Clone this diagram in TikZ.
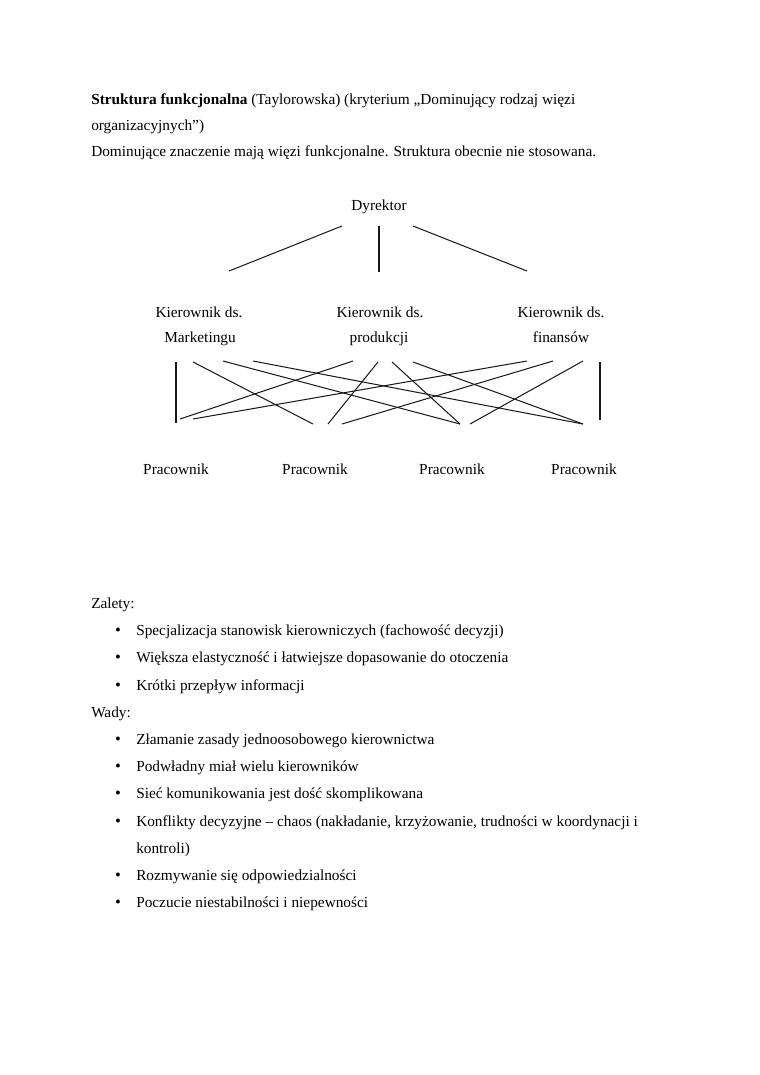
\documentclass[tikz,border=0pt]{standalone}
\usepackage{fontspec}
\setmainfont{Liberation Serif}
\begin{document}
\begin{tikzpicture}[x=0.7833pt,y=-0.7833pt,
  txt/.style={inner sep=0pt,anchor=base west,font=\fontsize{12}{14}\selectfont},
  ctr/.style={inner sep=0pt,anchor=base,font=\fontsize{12}{14}\selectfont},
  bul/.style={inner sep=0pt,anchor=base,font=\fontsize{13}{14}\selectfont},
  conn/.style={line width=0.8pt,black!90}]
\useasboundingbox (0,0) rectangle (760,1075);
% header
\node[txt] (t1) at (91,104) {\textbf{Struktura funkcjonalna} (Taylorowska) (kryterium „Dominujący rodzaj więzi};
\node[txt] (t2) at (91,130) {organizacyjnych”)};
\node[txt] (t3) at (91,156) {Dominujące znaczenie mają więzi funkcjonalne. Struktura obecnie nie stosowana.};
% diagram
\node[ctr] (dyr) at (379,210) {Dyrektor};
\node[ctr] (k1a) at (199,317) {Kierownik ds.};
\node[ctr] (k1b) at (200,342) {Marketingu};
\node[ctr] (k2a) at (380,317) {Kierownik ds.};
\node[ctr] (k2b) at (379,342) {produkcji};
\node[ctr] (k3a) at (561,317) {Kierownik ds.};
\node[ctr] (k3b) at (561,342) {finansów};
\node[ctr] (p1) at (176,474) {Pracownik};
\node[ctr] (p2) at (315,474) {Pracownik};
\node[ctr] (p3) at (452,474) {Pracownik};
\node[ctr] (p4) at (584,474) {Pracownik};
% top connectors
\coordinate (d1) at (342,226); \coordinate (m1) at (229,271);
\coordinate (d2) at (379,226); \coordinate (m2) at (379,272);
\coordinate (d3) at (413,226); \coordinate (m3) at (527,271);
\draw[conn] (d1) -- (m1);
\draw[conn] (d2) -- (m2);
\draw[conn] (d3) -- (m3);
% marketing -> workers
\coordinate (a1) at (176,362); \coordinate (a1e) at (176,423);
\coordinate (a2) at (193,362); \coordinate (a2e) at (313,424);
\coordinate (a3) at (223,361); \coordinate (a3e) at (460,424);
\coordinate (a4) at (253,361); \coordinate (a4e) at (583,424);
\draw[conn] (a1) -- (a1e);
\draw[conn] (a2) -- (a2e);
\draw[conn] (a3) -- (a3e);
\draw[conn] (a4) -- (a4e);
% produkcja -> workers
\coordinate (b1) at (353,361); \coordinate (b1e) at (180,419);
\coordinate (b2) at (378,362); \coordinate (b2e) at (328,424);
\coordinate (b3) at (392,362); \coordinate (b3e) at (460,424);
\coordinate (b4) at (413,362); \coordinate (b4e) at (583,424);
\draw[conn] (b1) -- (b1e);
\draw[conn] (b2) -- (b2e);
\draw[conn] (b3) -- (b3e);
\draw[conn] (b4) -- (b4e);
% finanse -> workers
\coordinate (c1) at (527,361); \coordinate (c1e) at (193,419);
\coordinate (c2) at (553,361); \coordinate (c2e) at (342,424);
\coordinate (c3) at (583,361); \coordinate (c3e) at (470,424);
\coordinate (c4) at (600,362); \coordinate (c4e) at (600,420);
\draw[conn] (c1) -- (c1e);
\draw[conn] (c2) -- (c2e);
\draw[conn] (c3) -- (c3e);
\draw[conn] (c4) -- (c4e);
% lists
\node[txt] (zal) at (91,608) {Zalety:};
\node[bul] (zb1) at (118,635) {\textbullet}; \node[txt] (z1) at (136,635) {Specjalizacja stanowisk kierowniczych (fachowość decyzji)};
\node[bul] (zb2) at (118,662) {\textbullet}; \node[txt] (z2) at (136,662) {Większa elastyczność i łatwiejsze dopasowanie do otoczenia};
\node[bul] (zb3) at (118,690) {\textbullet}; \node[txt] (z3) at (136,690) {Krótki przepływ informacji};
\node[txt] (wad) at (91,717) {Wady:};
\node[bul] (wb1) at (118,744) {\textbullet}; \node[txt] (w1) at (136,744) {Złamanie zasady jednoosobowego kierownictwa};
\node[bul] (wb2) at (118,771) {\textbullet}; \node[txt] (w2) at (136,771) {Podwładny miał wielu kierowników};
\node[bul] (wb3) at (118,798) {\textbullet}; \node[txt] (w3) at (136,798) {Sieć komunikowania jest dość skomplikowana};
\node[bul] (wb4) at (118,826) {\textbullet}; \node[txt] (w4) at (136,826) {Konflikty decyzyjne – chaos (nakładanie, krzyżowanie, trudności w koordynacji i};
\node[txt] (w4b) at (136,853) {kontroli)};
\node[bul] (wb5) at (118,880) {\textbullet}; \node[txt] (w5) at (136,880) {Rozmywanie się odpowiedzialności};
\node[bul] (wb6) at (118,907) {\textbullet}; \node[txt] (w6) at (136,907) {Poczucie niestabilności i niepewności};
\end{tikzpicture}
\end{document}
